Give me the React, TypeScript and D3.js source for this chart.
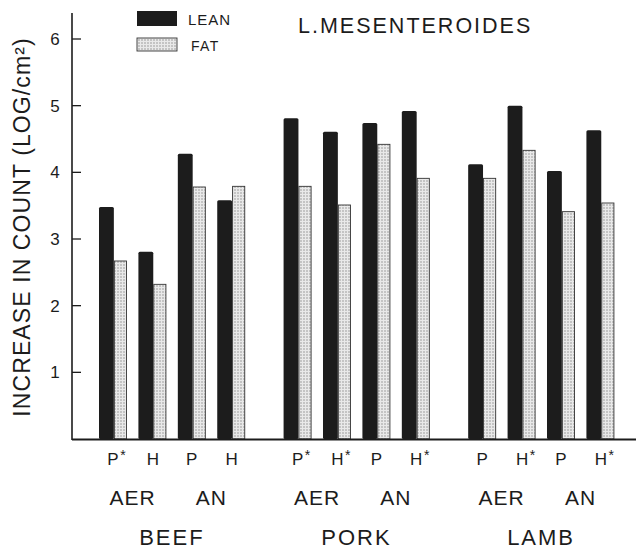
import React from "react";
import * as d3 from "d3";

const meats = ["BEEF", "PORK", "LAMB"];
const atmospheres = ["AER", "AN"];
const packLabels = ["P*", "H", "P", "H", "P*", "H*", "P", "H*", "P", "H*", "P", "H*"];
const leanValues = [3.48, 2.81, 4.28, 3.58, 4.81, 4.61, 4.74, 4.92, 4.12, 5.0, 4.02, 4.63];
const fatValues = [2.67, 2.32, 3.78, 3.79, 3.79, 3.51, 4.42, 3.91, 3.91, 4.33, 3.41, 3.54];
const yTicks = [1, 2, 3, 4, 5, 6];
const seriesNames = ["LEAN", "FAT"];

const W = 636;
const H = 550;
const font = "'Liberation Sans', Arial, Helvetica, sans-serif";
const ink = "#1c1c1c";

export default function App() {
  const axisX = 72;
  const baseY = 439;
  const y = d3.scaleLinear().domain([0, 6]).range([baseY, 39]);

  const xMeat = d3.scaleBand<string>().domain(meats).range([99, 614]).paddingInner(0.21);
  const xPair = d3
    .scaleBand<number>()
    .domain([0, 1, 2, 3])
    .range([0, xMeat.bandwidth()])
    .paddingInner(0.3);
  const xSeries = d3
    .scaleBand<string>()
    .domain(seriesNames)
    .range([0, xPair.bandwidth()])
    .paddingInner(0.02);

  const pairX = (i: number) => {
    const m = meats[Math.floor(i / 4)];
    return (xMeat(m) as number) + (xPair(i % 4) as number);
  };

  const rows = leanValues.map((v, i) => ({
    i,
    lean: v,
    fat: fatValues[i],
    label: packLabels[i],
    x: pairX(i),
  }));

  const leanW = xSeries.bandwidth() + 1.2;
  const fatW = xSeries.bandwidth() - 1.5;

  return (
    <svg
      width={W}
      height={H}
      style={{ position: "absolute", left: 0, top: 0, background: "#fff" }}
      fontFamily={font}
    >
      <defs>
        <pattern id="dots" width="3" height="3" patternUnits="userSpaceOnUse">
          <rect width="3" height="3" fill="#e9e9e9" />
          <circle cx="1" cy="1" r="0.8" fill="#959595" />
        </pattern>
      </defs>

      {/* bars */}
      {rows.map((r) => {
        const x0 = r.x + (xSeries("LEAN") as number);
        const x1 = x0 + leanW;
        return (
          <g key={r.i}>
            <rect
              x={x0}
              y={y(r.lean)}
              width={leanW}
              height={baseY - y(r.lean)}
              fill={ink}
              rx={1.5}
            />
            <rect
              x={x1 + 0.5}
              y={y(r.fat)}
              width={fatW}
              height={baseY - y(r.fat)}
              fill="url(#dots)"
              stroke="#333"
              strokeWidth={0.9}
            />
          </g>
        );
      })}

      {/* axes */}
      <line x1={axisX} x2={axisX} y1={13} y2={baseY + 1} stroke={ink} strokeWidth={1.6} />
      <line x1={axisX} x2={W} y1={baseY + 0.5} y2={baseY + 0.5} stroke={ink} strokeWidth={2} />
      {yTicks.map((t) => (
        <g key={t}>
          <line x1={axisX} x2={axisX + 9} y1={y(t)} y2={y(t)} stroke={ink} strokeWidth={1.3} />
          <text
            x={axisX - 17}
            y={y(t)}
            dy="0.36em"
            textAnchor="middle"
            fontSize={17}
            fill={ink}
          >
            {t}
          </text>
        </g>
      ))}

      {/* y axis title */}
      <text
        transform="translate(30, 227) rotate(-90)"
        textAnchor="middle"
        fontSize={23}
        fill={ink}
        letterSpacing={1.1}
      >
        INCREASE IN COUNT (LOG/cm²)
      </text>

      {/* chart title */}
      <text x={298} y={33} fontSize={21.5} fill={ink} letterSpacing={2}>
        L.MESENTEROIDES
      </text>

      {/* legend */}
      <rect x={137} y={11} width={40} height={15} fill={ink} />
      <text x={188} y={25} fontSize={15} fill={ink} letterSpacing={1}>
        LEAN
      </text>
      <rect x={137} y={38} width={40} height={13} fill="url(#dots)" stroke="#333" strokeWidth={0.9} />
      <text x={191} y={51} fontSize={14} fill={ink} letterSpacing={1.3}>
        FAT
      </text>

      {/* packaging labels */}
      {rows.map((r) => {
        const cx = r.x + xPair.bandwidth() / 2;
        const letter = r.label[0];
        const star = r.label.length > 1;
        return (
          <text key={`p${r.i}`} x={cx - 5.5} y={465} fontSize={17} fill={ink}>
            {letter}
            {star && (
              <tspan fontSize={14} dx={1.5} dy={-5}>
                *
              </tspan>
            )}
          </text>
        );
      })}

      {/* atmosphere labels */}
      {meats.map((m) =>
        atmospheres.map((a, k) => {
          const start = (xMeat(m) as number) + (xPair(k * 2) as number);
          const end = (xMeat(m) as number) + (xPair(k * 2 + 1) as number) + xPair.bandwidth();
          return (
            <text
              key={`${m}${a}`}
              x={(start + end) / 2}
              y={505}
              textAnchor="middle"
              fontSize={21}
              fill={ink}
              letterSpacing={1}
            >
              {a}
            </text>
          );
        })
      )}

      {/* meat labels */}
      {meats.map((m) => (
        <text
          key={m}
          x={(xMeat(m) as number) + xMeat.bandwidth() / 2}
          y={545}
          textAnchor="middle"
          fontSize={22}
          fill={ink}
          letterSpacing={2}
        >
          {m}
        </text>
      ))}
    </svg>
  );
}
